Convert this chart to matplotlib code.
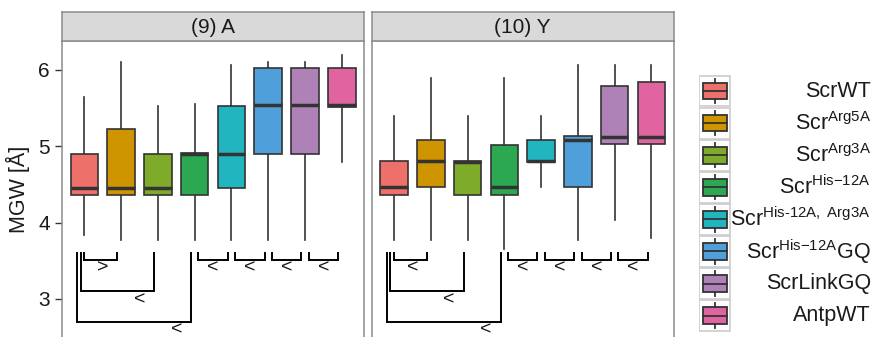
import matplotlib.pyplot as plt
from matplotlib.patches import Rectangle

plt.rcParams['font.family'] = ['Liberation Sans', 'DejaVu Sans']
plt.rcParams['mathtext.fontset'] = 'custom'
plt.rcParams['mathtext.rm'] = 'Liberation Sans'
plt.rcParams['mathtext.it'] = 'Liberation Sans:italic'
plt.rcParams['mathtext.bf'] = 'Liberation Sans:bold'

panels = ['(9) A', '(10) Y']
groups = ['ScrWT',
          r'Scr$^{\mathrm{Arg5A}}$',
          r'Scr$^{\mathrm{Arg3A}}$',
          r'Scr$^{\mathrm{His{-}12A}}$',
          'Scr$^{\\mathrm{His\u201012A,\\ Arg3A}}$',
          r'Scr$^{\mathrm{His{-}12A}}$GQ',
          'ScrLinkGQ',
          'AntpWT']
colors = ['#EE706B', '#CF9500', '#7FAB2A', '#2BA851',
          '#20B5BF', '#4FA0DA', '#AE82B7', '#E0649F']

# box statistics, panel (9) A
a_lo = [3.84, 3.77, 3.77, 3.77, 3.77, 3.77, 3.77, 4.80]
a_q1 = [4.36, 4.36, 4.36, 4.36, 4.45, 4.90, 4.90, 5.52]
a_med = [4.45, 4.45, 4.45, 4.90, 4.90, 5.54, 5.54, 5.54]
a_q3 = [4.90, 5.22, 4.90, 4.91, 5.53, 6.02, 6.02, 6.02]
a_hi = [5.64, 6.11, 5.53, 5.55, 6.07, 6.11, 6.11, 6.20]

# box statistics, panel (10) Y
y_lo = [3.77, 3.77, 3.77, 3.65, 4.46, 3.77, 4.04, 3.80]
y_q1 = [4.36, 4.46, 4.36, 4.36, 4.80, 4.46, 5.03, 5.03]
y_med = [4.46, 4.81, 4.80, 4.46, 4.81, 5.08, 5.12, 5.12]
y_q3 = [4.81, 5.08, 4.81, 5.02, 5.08, 5.14, 5.79, 5.84]
y_hi = [5.40, 5.89, 5.40, 5.89, 5.40, 6.06, 6.06, 6.06]

# significance brackets (group i vs group j) and sign per panel
pairs = [(1, 2), (1, 3), (1, 4), (4, 5), (5, 6), (6, 7), (7, 8)]
signs_a = ['>', '<', '<', '<', '<', '<', '<']
signs_y = ['<', '<', '<', '<', '<', '<', '<']

stats = [(a_lo, a_q1, a_med, a_q3, a_hi), (y_lo, y_q1, y_med, y_q3, y_hi)]
signs = [signs_a, signs_y]

dark = '#333333'
border = '#8C8C8C'

fig = plt.figure(figsize=(8.75, 3.37), dpi=100)
lefts = [62.3 / 875, 372 / 875]
w = 301.5 / 875
h = (337 - 41) / 337

for p in range(2):
    ax = fig.add_axes([lefts[p], 0, w, h])
    lo, q1, med, q3, hi = stats[p]
    bstats = [dict(whislo=lo[i], q1=q1[i], med=med[i], q3=q3[i], whishi=hi[i],
                   fliers=[]) for i in range(len(groups))]
    bp = ax.bxp(bstats, positions=range(1, 9), widths=0.75, patch_artist=True,
                showcaps=False, showfliers=False,
                boxprops=dict(edgecolor=dark, linewidth=1.2),
                medianprops=dict(color=dark, linewidth=2.5, solid_capstyle='butt'),
                whiskerprops=dict(color=dark, linewidth=1.2))
    for patch, c in zip(bp['boxes'], colors):
        patch.set_facecolor(c)
    for wl in bp['whiskers']:
        wl.set_zorder(1)

    # brackets
    level = 0
    for (i, j), s in zip(pairs, signs[p]):
        if i == 1:
            x0 = 1.0 - 0.1 * level
            ybot = [3.51, 3.10, 2.70][level]
            level += 1
        else:
            x0 = i + 0.1
            ybot = 3.51
        x1 = j - 0.1
        ax.plot([x0, x0, x1, x1], [3.60, ybot, ybot, 3.60], color='black',
                lw=1.4, solid_joinstyle='miter', clip_on=False)
        ax.text(j - 0.5, ybot - 0.11, s, ha='center', va='center',
                fontsize=14, color='#1a1a1a')

    ax.set_xlim(0.4, 8.6)
    ax.set_ylim(2.5, 6.38)
    ax.set_xticks([])
    ax.set_yticks([3, 4, 5, 6])
    for sp in ax.spines.values():
        sp.set_color(border)
        sp.set_linewidth(1.1)
    ax.spines['bottom'].set_visible(False)
    if p == 0:
        ax.tick_params(axis='y', length=5, width=1, color=dark, pad=4,
                       labelsize=15, labelcolor='#1a1a1a')
        ax.set_ylabel('MGW [Å]', fontsize=15.5, color='#1a1a1a', labelpad=6)
    else:
        ax.tick_params(axis='y', left=False, labelleft=False)

    # facet strip
    sx = fig.add_axes([lefts[p], h, w, 29 / 337])
    sx.set_facecolor('#D9D9D9')
    sx.set_xticks([])
    sx.set_yticks([])
    for sp in sx.spines.values():
        sp.set_color(border)
        sp.set_linewidth(1.1)
    sx.text(0.5, 0.47, panels[p], ha='center', va='center', fontsize=15,
            color='#1a1a1a', transform=sx.transAxes)

# legend
lg = fig.add_axes([699 / 875, (337 - 331.7) / 337, 172 / 875, 256.7 / 337])
lg.set_xlim(0, 172 / 31)
lg.set_ylim(8, 0)
lg.axis('off')
for k, (lab, c) in enumerate(zip(groups, colors)):
    lg.add_patch(Rectangle((0, k + 0.02), 1, 0.96, facecolor='white',
                           edgecolor='#CCCCCC', lw=1.2))
    lg.plot([0.5, 0.5], [k + 0.12, k + 0.24], color=dark, lw=1.3)
    lg.plot([0.5, 0.5], [k + 0.76, k + 0.88], color=dark, lw=1.3)
    lg.add_patch(Rectangle((0.13, k + 0.24), 0.76, 0.52, facecolor=c,
                           edgecolor=dark, lw=1.3))
    lg.plot([0.13, 0.89], [k + 0.5, k + 0.5], color=dark, lw=1.3)
    lg.text(172 / 31, k + 0.5, lab, ha='right', va='center', fontsize=15.5,
            color='#1a1a1a')

fig.savefig('out.png', dpi=100)
